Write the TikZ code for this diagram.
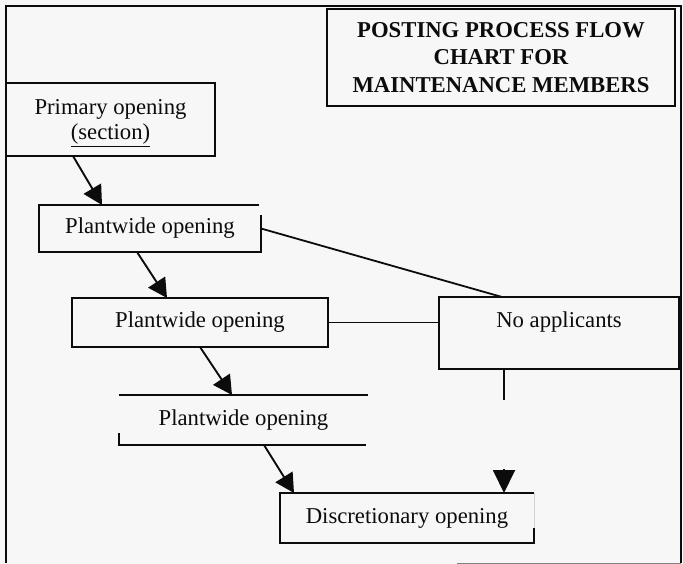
\documentclass[tikz,border=0pt]{standalone}
\usepackage{fontspec}
\setmainfont{Liberation Serif}
\usetikzlibrary{arrows.meta}
\definecolor{bgc}{RGB}{247,247,247}
\definecolor{inkc}{RGB}{12,12,12}
\begin{document}
\begin{tikzpicture}[x=1pt,y=-1pt,
  every node/.style={font=\fontsize{22.7}{25}\selectfont, inner sep=0pt, outer sep=0pt, text=inkc},
  boxline/.style={draw=inkc, line width=1.9pt},
  plainline/.style={draw=inkc, line width=1.8pt},
  flowarrow/.style={draw=inkc, line width=1.9pt, -{Triangle[length=19pt,width=20pt]}},
  droparrow/.style={draw=inkc, line width=1.9pt, -{Triangle[length=23pt,width=22pt]}},
  framebox/.style={rectangle, fill=bgc, boxline},
  openbox/.style={rectangle},
]
\fill[bgc] (0,0) rectangle (683,564);
\useasboundingbox (0,0) rectangle (683,564);

% outer frame
\draw[boxline] (6,563) -- (6,6) -- (681,6) -- (681,563);
\draw[gray, line width=1pt] (457,563) -- (681,563);

% title
\node[framebox, minimum width=348pt, minimum height=97pt, align=center,
      font=\fontsize{22.7}{27.5}\selectfont\bfseries] (title) at (501,57.5)
  {POSTING PROCESS FLOW\\CHART FOR\\MAINTENANCE MEMBERS};

% primary opening
\node[framebox, minimum width=209pt, minimum height=73pt, align=center] (primary) at (110.5,119.5)
  {\rule{0pt}{22pt}Primary opening\\\underline{(section)}};

% plantwide 1
\node[openbox, minimum width=222pt, minimum height=47pt] (pw1) at (150,228.5) {Plantwide opening};
\draw[boxline] ([xshift=-2pt]pw1.north east) -- (pw1.north west) -- (pw1.south west)
  -- (pw1.south east) -- ([yshift=-10pt]pw1.north east);

% plantwide 2
\node[framebox, minimum width=256pt, minimum height=49pt] (pw2) at (200,322.5) {Plantwide opening};

% no applicants
\node[framebox, minimum width=240pt, text height=30pt, text depth=42pt] (noapp) at (559,333) {No applicants};

% plantwide 3
\node[openbox, minimum width=249pt, minimum height=50pt] (pw3) at (243.5,420) {Plantwide opening};
\draw[boxline] (pw3.north west) -- (pw3.north east);
\draw[boxline] ([yshift=12pt]pw3.south west) -- (pw3.south west) -- ([xshift=-2pt]pw3.south east);

% discretionary
\node[openbox, minimum width=254pt, minimum height=50pt] (disc) at (407,518) {Discretionary opening};
\draw[gray!35, line width=0.6pt] (disc.north east) -- (disc.south east);
\draw[boxline] (disc.north east) -- (disc.north west) -- (disc.south west) -- (disc.south east)
  -- ([yshift=15pt]disc.south east);

% connectors
\draw[flowarrow] ([xshift=-37.5pt]primary.south) -- ([xshift=-48pt]pw1.north);
\draw[flowarrow] ([xshift=-13pt]pw1.south) -- ([xshift=-33pt]pw2.north);
\draw[flowarrow] (pw2.south) -- ([xshift=-11.5pt]pw3.north);
\draw[flowarrow] ([xshift=20.5pt]pw3.south) -- ([xshift=-113pt]disc.north);

\draw[plainline] (pw1.east) -- ([xshift=-57pt]noapp.north);
\draw[plainline] (pw2.east) -- (pw2.east -| noapp.west);

\coordinate (stubend) at (504,400);
\coordinate (drop) at (504,469);
\draw[plainline] (noapp.south -| stubend) -- (stubend);
\draw[droparrow] (drop) -- (drop |- disc.north);
\end{tikzpicture}
\end{document}
